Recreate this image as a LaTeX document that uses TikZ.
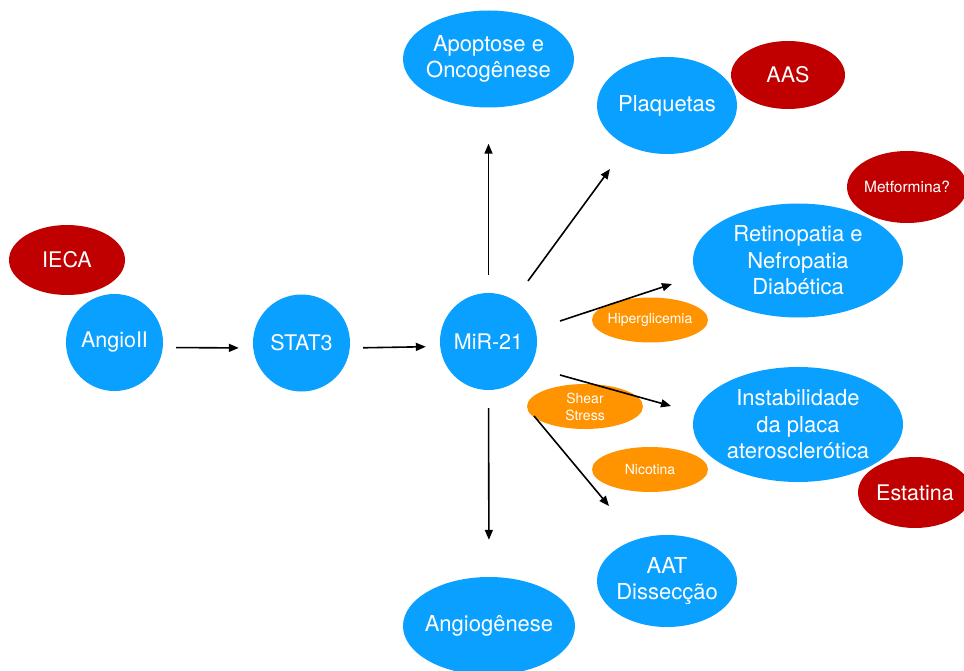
\documentclass[tikz,border=0pt]{standalone}
\usepackage{fontspec}
\setmainfont{TeX Gyre Heros}
\usetikzlibrary{shapes.geometric,arrows.meta}
\definecolor{cblue}{RGB}{10,160,255}
\definecolor{cred}{RGB}{192,0,0}
\definecolor{corange}{RGB}{255,147,0}
\begin{document}
\begin{tikzpicture}[x=1pt,y=-1pt,
  bub/.style={ellipse,fill=cblue,text=white,inner sep=-20pt,align=center,font=\fontsize{22}{26.5}\selectfont},
  circ/.style={circle,fill=cblue,text=white,inner sep=0pt,minimum size=97pt,font=\fontsize{21.5}{26}\selectfont},
  redb/.style={ellipse,fill=cred,text=white,inner sep=-10pt,align=center,font=\fontsize{21.5}{26}\selectfont},
  orb/.style={ellipse,fill=corange,text=white,inner sep=-10pt,align=center,minimum width=116pt,minimum height=45pt,font=\fontsize{14}{17}\selectfont},
  arr/.style={-{Triangle[length=10pt,width=8pt]},line width=1.6pt,black}]
\useasboundingbox (0,0) rectangle (964,671);
\clip (0,0) rectangle (964,671);
% red (behind)
\node[redb,minimum width=116pt,minimum height=70pt] (ieca) at (67,260) {IECA};
\node[redb,minimum width=114pt,minimum height=68pt] (aas) at (788,75) {AAS};
\node[redb,minimum width=120pt,minimum height=72pt,font=\fontsize{15.5}{18}\selectfont] (met) at (907,187) {Metformina?};
\node[redb,minimum width=114pt,minimum height=71pt] (esta) at (915,492.5) {Estatina};
% blue
\node[circ] (angio) at (114.5,342.5) {AngioII};
\node[circ] (stat) at (301.5,343) {STAT3};
\node[circ] (mir) at (488.5,341.5) {MiR-21};
\node[bub,minimum width=171pt,minimum height=97pt] (apo) at (488.5,59) {Apoptose e\\Oncogênese};
\node[bub,minimum width=140pt,minimum height=97pt] (plaq) at (667,105.5) {Plaquetas};
\node[bub,minimum width=210pt,minimum height=114pt] (ret) at (798,260.5) {Retinopatia e\\Nefropatia\\Diabética};
\node[bub,minimum width=210pt,minimum height=115pt] (inst) at (798,424.5) {Instabilidade\\da placa\\aterosclerótica};
\node[bub,minimum width=140pt,minimum height=92pt] (aat) at (667,581) {AAT\\Dissecção};
\node[bub,minimum width=172pt,minimum height=98pt] (angg) at (489,626) {Angiogênese};
% orange
\node[orb] (hip) at (650,320) {Hiperglicemia};
\node[orb] (shear) at (585,406.5) {Shear\\Stress};
\node[orb] (nic) at (650,469.5) {Nicotina};
% arrow end points
\coordinate (c1s) at (528,281);
\coordinate (c1e) at (610,169);
\coordinate (c2s) at (560,321);
\coordinate (c2e) at (672,284);
\coordinate (c3s) at (560,375);
\coordinate (c3e) at (671,406);
\coordinate (c4s) at (534,416);
\coordinate (c4e) at (609,506);
% arrows
\draw[arr,shorten <=13pt,shorten >=14pt] ([yshift=-5pt]angio.east) -- ([yshift=-5pt]stat.west);
\draw[arr,shorten <=13pt,shorten >=14pt] ([yshift=-5pt]stat.east) -- ([yshift=-5pt]mir.west);
\draw[arr,shorten <=18pt,shorten >=36pt] (mir.north) -- (apo.south);
\draw[arr,shorten <=18pt,shorten >=37pt] (mir.south) -- (angg.north);
\draw[arr] (c1s) -- (c1e);
\draw[arr] (c2s) -- (c2e);
\draw[arr] (c3s) -- (c3e);
\draw[arr] (c4s) -- (c4e);
\end{tikzpicture}
\end{document}
